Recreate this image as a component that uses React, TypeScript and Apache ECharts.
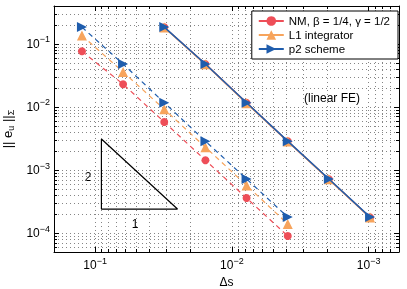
import React, { useEffect, useRef } from "react";
import * as echarts from "echarts";

// step sizes
const dsCoarse = [0.125, 0.0625, 0.03125, 0.015625, 0.0078125, 0.00390625];
const dsFine = [0.03125, 0.015625, 0.0078125, 0.00390625, 0.001953125, 0.0009765625];
// errors, coarse runs (dashed)
const nmCoarse = [0.0764, 0.023, 0.00577, 0.00143, 0.000359, 0.0000896];
const l1Coarse = [0.136, 0.036, 0.0092, 0.0023, 0.00057, 0.000139];
const p2Coarse = [0.185, 0.048, 0.0117, 0.00287, 0.00072, 0.000179];
// errors, fine runs (solid)
const nmFine = [0.184, 0.0478, 0.0116, 0.00285, 0.000715, 0.000177];
const l1Fine = [0.182, 0.0475, 0.0115, 0.00283, 0.00071, 0.000176];
const p2Fine = [0.185, 0.048, 0.0117, 0.00287, 0.00072, 0.000179];
// slope triangle (x, y)
const triX = [0.09, 0.09, 0.025, 0.09];
const triY = [0.00311, 0.00024, 0.00024, 0.00311];

const names = ["NM, β = 1/4, γ = 1/2", "L1 integrator", "p2 scheme"];
const colors = ["#EE4E58", "#F7A45C", "#1F5DAD"];
const symbols = ["circle", "triangle", "triangle"];
const symbolSizes = [8, 10, 10];
const symbolRotates = [0, 0, -90];

const X_MIN = 6e-4, X_MAX = 0.2;
const Y_MIN = 5e-5, Y_MAX = 0.4;

function gridValues(min: number, max: number) {
  const out: number[] = [];
  for (let e = -6; e <= 1; e++) {
    for (let k = 2; k <= 9; k++) {
      const v = Number((k * Math.pow(10, e)).toPrecision(6));
      if (v > min * 1.0001 && v < max * 0.9999) out.push(v);
    }
  }
  return out;
}
const zip = (a: number[], b: number[]) => a.map((v, i) => [v, b[i]]);

const FONT = "Liberation Sans, Arial, sans-serif";
const fmt = (v: number) => {
  const e = Math.round(Math.log10(v));
  return `{b|10}{s|${e < 0 ? "−" : ""}${Math.abs(e)}}`;
};
const richLbl = {
  b: { fontSize: 12, fontFamily: FONT, color: "#000" },
  s: { fontSize: 9, fontFamily: FONT, color: "#000", padding: [0, 0, 9, 0] },
};

export default function App() {
  const ref = useRef<HTMLDivElement>(null);
  useEffect(() => {
    if (!ref.current) return;
    const chart = echarts.init(ref.current, null, { renderer: "svg" });
    const gridLine = { show: true, lineStyle: { color: "#666", width: 0.8, type: [1, 3] as any } };

    const baseX = {
      type: "log" as const, logBase: 10, min: X_MIN, max: X_MAX, inverse: true,
    };
    const baseY = {
      type: "log" as const, logBase: 10, min: Y_MIN, max: Y_MAX,
    };

    const series: any[] = [];
    const fine = [nmFine, l1Fine, p2Fine];
    const coarse = [nmCoarse, l1Coarse, p2Coarse];
    for (let i = 0; i < 3; i++) {
      series.push({
        name: names[i], type: "line", data: zip(dsFine, fine[i]),
        symbol: symbols[i], symbolSize: symbolSizes[i], symbolRotate: symbolRotates[i],
        itemStyle: { color: colors[i] }, lineStyle: { color: colors[i], width: 1.5 },
        z: 3 + i,
      });
    }
    for (let i = 0; i < 3; i++) {
      series.push({
        name: names[i], type: "line", data: zip(dsCoarse, coarse[i]),
        symbol: symbols[i], symbolSize: symbolSizes[i], symbolRotate: symbolRotates[i],
        itemStyle: { color: colors[i] }, lineStyle: { color: colors[i], width: 1.2, type: [5, 4] },
        z: 3 + i,
      });
    }
    series.push({
      name: "slope", type: "line", data: zip(triX, triY), symbol: "none", silent: true,
      lineStyle: { color: "#000", width: 1.2 }, z: 2,
    });

    chart.setOption({
      animation: false,
      grid: { left: 54, right: 8, top: 6, bottom: 37, containLabel: false, outerBoundsMode: "none" },
      xAxis: [
        {
          ...baseX, position: "bottom",
          axisLine: { show: true, lineStyle: { color: "#000", width: 1 } },
          axisTick: { show: true, inside: true, length: 5, lineStyle: { color: "#000" } },
          axisLabel: { formatter: fmt, rich: richLbl, margin: 4, showMinLabel: false, showMaxLabel: false },
          splitLine: gridLine,
          name: "Δs", nameLocation: "middle", nameGap: 24,
          nameTextStyle: { fontSize: 12, fontFamily: FONT, color: "#000" },
        },
        {
          ...baseX, position: "top",
          axisLine: { show: true, onZero: false, lineStyle: { color: "#000", width: 1 } },
          axisTick: { show: true, inside: true, length: 5, lineStyle: { color: "#000" } },
          axisLabel: { show: false },
          splitLine: { show: false },
        },
        {
          ...baseX, position: "bottom",
          axisLine: { show: false },
          axisTick: { show: true, inside: true, length: 3, customValues: gridValues(X_MIN, X_MAX), lineStyle: { color: "#000" } },
          axisLabel: { show: false },
          splitLine: gridLine,
        },
        {
          ...baseX, position: "top",
          axisLine: { show: false },
          axisTick: { show: true, inside: true, length: 3, customValues: gridValues(X_MIN, X_MAX), lineStyle: { color: "#000" } },
          axisLabel: { show: false },
          splitLine: { show: false },
        },
      ],
      yAxis: [
        {
          ...baseY, position: "left",
          axisLine: { show: true, lineStyle: { color: "#000", width: 1 } },
          axisTick: { show: true, inside: true, length: 5, lineStyle: { color: "#000" } },
          axisLabel: { formatter: fmt, rich: richLbl, margin: 4, showMinLabel: false, showMaxLabel: false },
          splitLine: gridLine,
          name: "{n||| e}{s|u}{n| ||}{s|Σ}", nameLocation: "middle", nameGap: 33, nameRotate: 90,
          nameTextStyle: {
            rich: {
              n: { fontSize: 13, fontFamily: FONT, color: "#000" },
              s: { fontSize: 9, fontFamily: FONT, color: "#000", padding: [6, 0, 0, 0] },
            },
          },
        },
        {
          ...baseY, position: "right",
          axisLine: { show: true, onZero: false, lineStyle: { color: "#000", width: 1 } },
          axisTick: { show: true, inside: true, length: 5, lineStyle: { color: "#000" } },
          axisLabel: { show: false },
          splitLine: { show: false },
        },
        {
          ...baseY, position: "left",
          axisLine: { show: false },
          axisTick: { show: true, inside: true, length: 3, customValues: gridValues(Y_MIN, Y_MAX), lineStyle: { color: "#000" } },
          axisLabel: { show: false },
          splitLine: gridLine,
        },
        {
          ...baseY, position: "right",
          axisLine: { show: false },
          axisTick: { show: true, inside: true, length: 3, customValues: gridValues(Y_MIN, Y_MAX), lineStyle: { color: "#000" } },
          axisLabel: { show: false },
          splitLine: { show: false },
        },
      ],
      legend: {
        data: names, orient: "vertical", right: 9, top: 11,
        backgroundColor: "#fff", borderColor: "#000", borderWidth: 1,
        padding: [4, 8, 4, 6], itemGap: 2, itemWidth: 25, itemHeight: 12,
        textStyle: { fontSize: 11.5, fontFamily: FONT, color: "#000" },
        lineStyle: { type: "solid" },
      },
      graphic: [
        { type: "text", x: 332, y: 98, style: { text: "(linear FE)", fontSize: 12, fontFamily: FONT, fill: "#000", align: "center", verticalAlign: "middle" } },
        { type: "text", x: 88, y: 177, style: { text: "2", fontSize: 12, fontFamily: FONT, fill: "#000", align: "center", verticalAlign: "middle" } },
        { type: "text", x: 135, y: 224, style: { text: "1", fontSize: 12, fontFamily: FONT, fill: "#000", align: "center", verticalAlign: "middle" } },
      ],
      series,
    });
    return () => chart.dispose();
  }, []);
  return <div ref={ref} style={{ position: "fixed", left: 0, top: 0, width: 407, height: 289 }} />;
}
